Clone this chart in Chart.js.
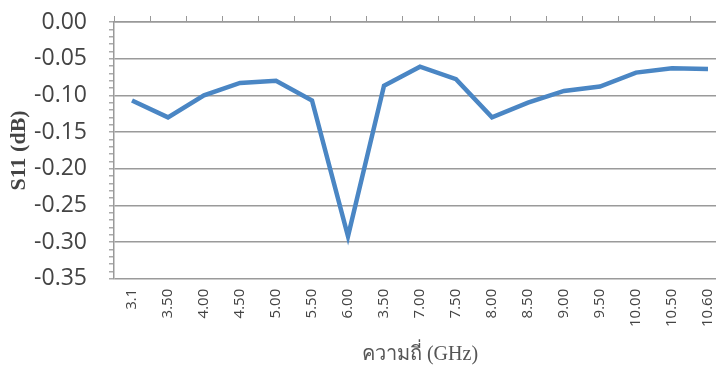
<!DOCTYPE html>
<html>
<head>
<meta charset="utf-8">
<script src="https://cdn.jsdelivr.net/npm/chart.js@4.4.0/dist/chart.umd.min.js"></script>
<style>
  html, body { margin: 0; padding: 0; background: #fff; overflow: hidden; }
  #wrap { width: 740px; height: 373px; }
</style>
</head>
<body>
<div id="wrap"><canvas id="chart"></canvas></div>
<script>
// frequency labels as printed (the 6.50 label reads "3.50" in the original)
const categories = ['3.1', '3.50', '4.00', '4.50', '5.00', '5.50', '6.00', '3.50', '7.00',
  '7.50', '8.00', '8.50', '9.00', '9.50', '10.00', '10.50', '10.60'];
const s11Values = [-0.107, -0.130, -0.100, -0.083, -0.080, -0.107, -0.292, -0.087, -0.061,
  -0.078, -0.130, -0.110, -0.094, -0.088, -0.069, -0.063, -0.064];
const yMin = -0.35;
const yMax = 0.00;

const isMajor = v => Math.abs(Math.round(v * 100) % 5) === 0;

const ctx = document.getElementById('chart').getContext('2d');
new Chart(ctx, {
  type: 'line',
  data: {
    labels: categories,
    datasets: [{
      data: s11Values,
      borderColor: '#4a86c4',
      borderWidth: 4.5,
      pointRadius: 0,
      tension: 0,
      fill: false
    }]
  },
  options: {
    responsive: true,
    maintainAspectRatio: false,
    animation: false,
    layout: { padding: { top: 16, left: 0, right: 14, bottom: 2 } },
    plugins: { legend: { display: false }, tooltip: { enabled: false } },
    scales: {
      x: {
        offset: true,
        grid: { display: false, drawTicks: false },
        border: { display: false },
        ticks: {
          color: '#444',
          font: { family: 'Open Sans', size: 15 },
          maxRotation: 90,
          minRotation: 90,
          autoSkip: false,
          padding: 10
        },
        title: {
          display: true,
          text: 'ความถี่ (GHz)',
          color: '#555',
          font: { family: 'Liberation Serif', size: 20 },
          padding: { top: 6 }
        }
      },
      xTop: {
        position: 'top',
        offset: true,
        labels: categories,
        grid: { drawOnChartArea: false, color: '#999', tickLength: 6, offset: true },
        border: { color: '#999', width: 1.5 },
        ticks: { display: false }
      },
      y: {
        min: yMin,
        max: yMax,
        afterFit: s => { s.width = 114; s.paddingTop = 0; s.paddingBottom = 0; },
        ticks: {
          stepSize: 0.01,
          autoSkip: false,
          color: '#444',
          font: { family: 'Open Sans', size: 23 },
          padding: 22,
          callback: v => isMajor(v) ? v.toFixed(2) : ''
        },
        grid: {
          color: c => isMajor(c.tick.value) ? '#9a9a9a' : 'rgba(0,0,0,0)',
          lineWidth: 1.5,
          tickColor: '#aaa',
          tickLength: 5
        },
        border: { color: '#999', width: 1.5 },
        title: {
          display: true,
          text: 'S11 (dB)',
          color: '#444',
          font: { family: 'Liberation Serif', size: 22, weight: 'bold' },
          padding: { top: 6, bottom: 0 }
        }
      }
    }
  }
});
</script>
</body>
</html>
